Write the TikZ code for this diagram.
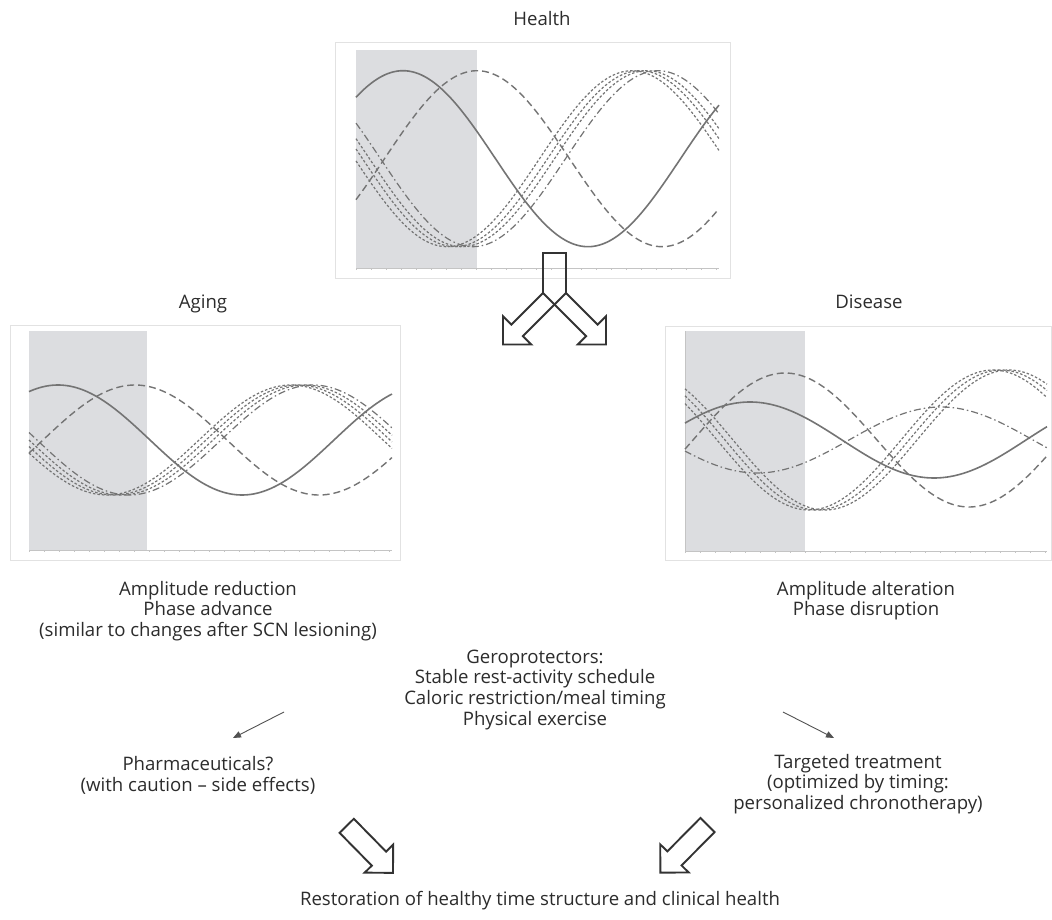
\documentclass[tikz,border=0pt]{standalone}
\usepackage{fontspec}
\setmainfont{Open Sans}
\usetikzlibrary{arrows.meta}
\definecolor{txt}{HTML}{2C2C2C}
\definecolor{crv}{HTML}{747474}
\definecolor{shade}{HTML}{DCDDE0}
\definecolor{frm}{HTML}{E2E2E2}
\definecolor{axc}{HTML}{C4C4C4}
\definecolor{arr}{HTML}{333333}
\newcommand\wave[7]{\draw[#1] plot[domain=#2:#3,samples=140] (\x,{#4-#5*cos((\x-#6)/#7*360)});}
\newcommand\blockarrow[3]{%
  \begin{scope}[shift={#1},rotate=#2]
    \draw[blockarr] (0,10) -- ({#3-20},10) -- ({#3-20},20) -- (#3,0) -- ({#3-20},-20) -- ({#3-20},-10) -- (0,-10) -- cycle;
  \end{scope}}
\tikzset{
  lbl/.style={text=txt,font=\fontsize{18.6}{20.7}\selectfont,inner sep=0pt,align=center},
  frame/.style={draw=frm,line width=1pt},
  shadebox/.style={fill=shade,draw=none},
  axis/.style={draw=axc,line width=0.8pt},
  solidc/.style={draw=crv,line width=1.6pt},
  longdash/.style={draw=crv,line width=1.4pt,dash pattern=on 7pt off 4pt},
  shortdash/.style={draw=crv,line width=1.2pt,dash pattern=on 2.5pt off 2pt},
  dashdot/.style={draw=crv,line width=1.2pt,dash pattern=on 7pt off 3pt on 1.5pt off 3pt},
  smallarr/.style={draw=arr!85,line width=0.9pt,-{Triangle[length=8pt,width=6.5pt]}},
  blockarr/.style={draw=arr,line width=1.9pt,line join=miter}
}
\begin{document}
\begin{tikzpicture}[x=1pt,y=-1pt]
\useasboundingbox (0,0) rectangle (1052,920);
\fill[white] (0,0) rectangle (1052,920);

% ---------- Health panel ----------
\draw[frame] (335,43) rectangle (730,278);
\fill[shadebox] (356,50) rectangle (477,268);
\draw[axis] (356,268) -- (719,268);
\foreach \t in {0,...,24} \draw[axc,line width=0.5pt] ({356+\t*15},268) -- ++(0,2);
\wave{solidc}{356}{719}{158.7}{88}{403}{370}
\wave{longdash}{356}{719}{158.7}{88}{477}{370}
\wave{dashdot}{356}{719}{158.7}{88}{288}{370}
\wave{shortdash}{356}{719}{158.7}{88}{277}{370}
\wave{shortdash}{356}{719}{158.7}{88}{270}{370}
\wave{shortdash}{356}{719}{158.7}{88}{262}{370}

% ---------- Aging panel ----------
\draw[frame] (10,325) rectangle (400,560);
\fill[shadebox] (29,331) rectangle (147,550);
\draw[axis] (29,550) -- (392,550);
\foreach \t in {0,...,24} \draw[axc,line width=0.5pt] ({29+\t*15},550) -- ++(0,2);
\wave{solidc}{29}{392}{440}{55}{58}{368}
\wave{longdash}{29}{392}{440}{55}{135}{368}
\wave{dashdot}{29}{392}{440}{55}{-55}{368}
\wave{shortdash}{29}{392}{440}{55}{-63}{368}
\wave{shortdash}{29}{392}{440}{55}{-70}{368}
\wave{shortdash}{29}{392}{440}{55}{-77}{368}

% ---------- Disease panel ----------
\draw[frame] (665,326) rectangle (1051,560);
\fill[shadebox] (685,331) rectangle (805,551);
\draw[axis] (685,551) -- (1047,551);
\draw[axis] (685,331) -- (685,551);
\foreach \t in {0,...,24} \draw[axc,line width=0.5pt] ({685+\t*15},551) -- ++(0,2);
\wave{solidc}{685}{1047}{440}{38}{750}{368}
\wave{longdash}{685}{1047}{440}{67}{785}{368}
\wave{dashdot}{685}{1047}{440}{33}{573}{368}
\wave{shortdash}{685}{1047}{440}{70}{625}{368}
\wave{shortdash}{685}{1047}{440}{70}{633}{368}
\wave{shortdash}{685}{1047}{440}{70}{641}{368}

% ---------- forked arrow ----------
\draw[blockarr] (543,293) -- (543,253) -- (566,253) -- (566,293);
\draw[blockarr] (543,293) -- (511.35,324.65) -- (503,316.3) -- (503,344.5) -- (531.2,344.5) -- (522.85,336.15) -- (566,293);
\draw[blockarr] (566,293) -- (597.65,324.65) -- (606,316.3) -- (606,344.5) -- (577.8,344.5) -- (586.15,336.15) -- (543,293);

% ---------- labels ----------
\node[lbl,anchor=base] (health) at (542,26) {Health};
\node[lbl,anchor=base] (aging) at (203,308) {Aging};
\node[lbl,anchor=base] (disease) at (869,308) {Disease};
\node[lbl,anchor=north] (agingtxt) at (208,580.5) {\strut Amplitude reduction\\Phase advance\\(similar to changes after SCN lesioning)};
\node[lbl,anchor=north] (diseasetxt) at (866,580.5) {\strut Amplitude alteration\\Phase disruption};
\node[lbl,anchor=north] (gero) at (535,648.5) {\strut Geroprotectors:\\Stable rest-activity schedule\\Caloric restriction/meal timing\\Physical exercise};
\node[lbl,anchor=north] (pharma) at (198,756.2) {\strut Pharmaceuticals?\\(with caution – side effects)};
\node[lbl,anchor=north] (target) at (858,753.5) {\strut Targeted treatment\\(optimized by timing:\\personalized chronotherapy)};
\node[lbl,anchor=base] (restore) at (540,905) {Restoration of healthy time structure and clinical health};

% ---------- small arrows ----------
\coordinate (pa1) at (284,712);
\coordinate (pa2) at (233,738);
\coordinate (ta1) at (783,712);
\coordinate (ta2) at (834,738);
\draw[smallarr] (pa1) -- (pa2);
\draw[smallarr] (ta1) -- (ta2);

% ---------- bottom block arrows ----------
\coordinate (la) at (346.7,825.8);
\coordinate (ra) at (707.5,825);
\blockarrow{(la)}{-45.5}{66}
\blockarrow{(ra)}{-134.7}{67}
\end{tikzpicture}
\end{document}
